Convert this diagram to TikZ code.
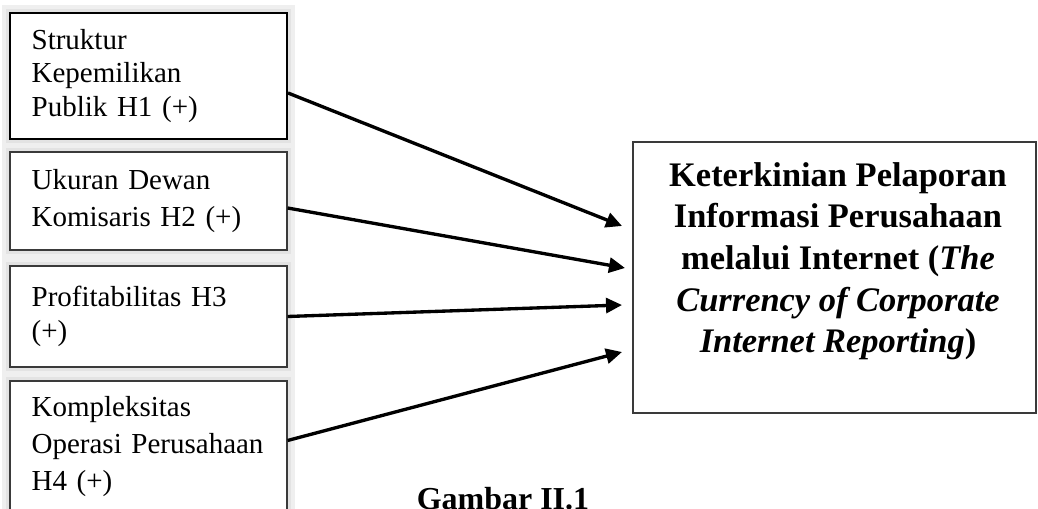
\documentclass[tikz,border=0pt]{standalone}
\usepackage{fontspec}
\setmainfont{Liberation Serif}
\usepackage{xcolor}
\usepackage{tikz}
\usetikzlibrary{arrows.meta,calc}
\definecolor{cframe}{HTML}{3A3A3A}
\definecolor{cshade}{HTML}{EFEFEF}
\definecolor{cshade2}{HTML}{E3E3E3}

\tikzset{
	varbox/.style={draw=cframe, line width=0.7pt, fill=white, align=left, text width=133pt,
		minimum width=5.54cm, inner sep=0pt, font=\fontsize{16.5}{19.1}\selectfont,
		preaction={draw=cshade, line width=0.32cm}, preaction={draw=cshade2, line width=0.16cm}},
	wide/.style={font=\fontsize{16.5}{20.8}\selectfont},
	link/.style={line width=1.9pt, -{Triangle[length=0.32cm, width=0.3cm]}}
}

\begin{document}
\begin{tikzpicture}[x=0.02cm, y=-0.02cm]
			\useasboundingbox (0,0) rectangle (1038,509);
			\clip (0,0) rectangle (1038,509);

			\node[varbox, draw=black, line width=1.2pt, minimum height=2.52cm] (struk) at (148.5,76) {Struktur\\ Kepemilikan\\ Publik H1 (+)};
			\node[varbox, wide, minimum height=1.96cm] (ukur) at (148.5,201) {Ukuran Dewan\\ Komisaris H2 (+)};
			\node[varbox, minimum height=2.02cm] (prof) at (148.5,316.5) {Profitabilitas H3\\ (+)};
			\node[varbox, wide, minimum height=2.62cm] (komp) at (148.5,446.5) {Kompleksitas\\ Operasi Perusahaan\\ H4 (+)};

			\node[draw=cframe, line width=0.7pt, minimum width=8.06cm, minimum height=5.42cm, inner sep=0pt] (cirbox) at (834.5,277.5) {};
			\node[anchor=north, inner sep=0pt, align=center, font=\fontsize{19.6}{23.7}\selectfont\bfseries] (cir) at (838,162)
				{Keterkinian Pelaporan\\ Informasi Perusahaan\\ melalui Internet (\textit{The}\\ \textit{Currency of Corporate}\\ \textit{Internet Reporting})};

			\coordinate (t1) at (622,226);
			\coordinate (t2) at (625,268);
			\coordinate (t3) at (622,305);
			\coordinate (t4) at (622,352);

			\draw[link] ($(struk.east)+(0,17)$) -- (t1);
			\draw[link] ($(ukur.east)+(0,7)$) -- (t2);
			\draw[link] (prof.east) -- (t3);
			\draw[link] ($(komp.east)+(0,-6)$) -- (t4);

			\node[anchor=base, inner sep=0pt, font=\fontsize{18.2}{22}\selectfont\bfseries] (cap) at (503,510) {Gambar II.1};
		\end{tikzpicture}
\end{document}
